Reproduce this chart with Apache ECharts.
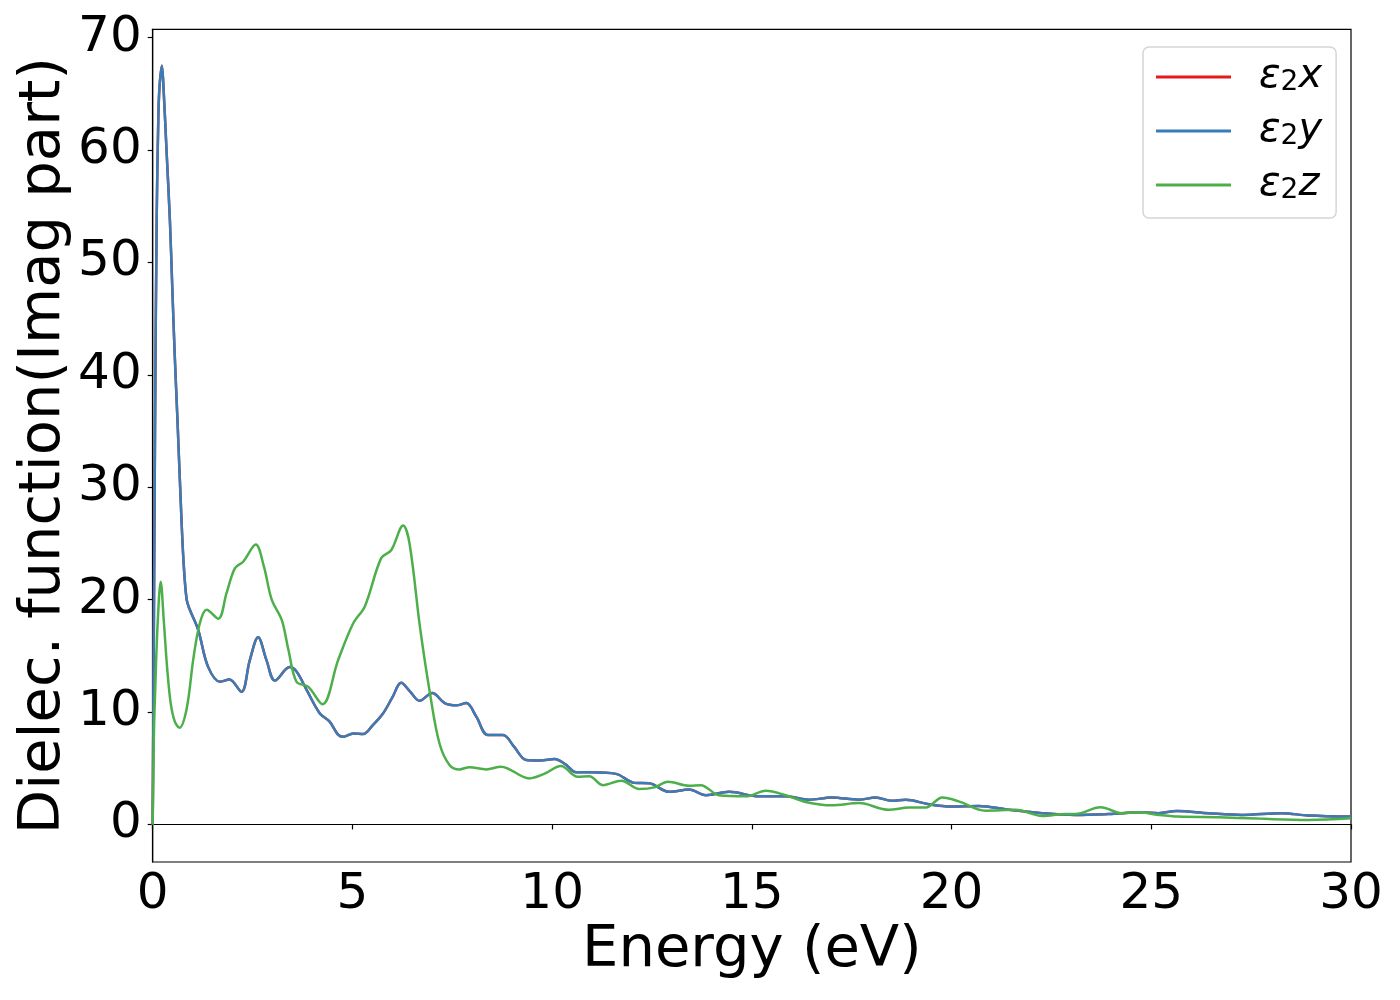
<!DOCTYPE html>
<html>
<head>
<meta charset="utf-8">
<script src="https://cdn.jsdelivr.net/npm/echarts@6/dist/echarts.min.js"></script>
<style>
  html, body { margin: 0; padding: 0; background: #fff; }
  #main { width: 1400px; height: 1000px; }
</style>
</head>
<body>
<div id="main"></div>
<script>
// values (energy in eV, eps2 dimensionless)
var energyXY = [0, 0.03, 0.06, 0.1, 0.14, 0.17, 0.23, 0.27, 0.35, 0.43, 0.49, 0.55, 0.62, 0.7, 0.77, 0.85,
  0.93, 1.14, 1.39, 1.69, 1.92, 2.22, 2.43, 2.64, 2.85, 3.06, 3.43, 3.6, 3.85, 4.18, 4.43, 4.64, 4.77,
  5.02, 5.27, 5.5, 5.77, 6.0, 6.22, 6.45, 6.68, 7.0, 7.31, 7.6, 7.85, 8.1, 8.39, 8.77, 9.05, 9.35, 9.7,
  10.06, 10.35, 10.6, 11.0, 11.6, 12.06, 12.43, 12.93, 13.43, 13.85, 14.43, 15.18, 15.85, 16.43, 17.0,
  17.68, 18.1, 18.5, 18.85, 19.43, 20.0, 20.68, 21.43, 22.27, 23.1, 23.93, 24.77, 25.18, 25.64, 26.43,
  27.27, 28.27, 28.93, 30];
var epsX = [0, 18, 36, 54, 62.7, 65.6, 67.5, 65.6, 59.7, 53.8, 47.8, 41.9, 36, 28.9, 23.5, 20,
  19.1, 17.3, 14.0, 12.7, 12.9, 11.8, 14.6, 16.65, 14.6, 12.8, 14.0, 13.6, 12.0, 9.9, 9.15, 8.0, 7.8,
  8.1, 8.05, 8.8, 9.9, 11.3, 12.6, 11.8, 11.0, 11.7, 10.8, 10.6, 10.8, 9.6, 7.96, 7.96, 6.9, 5.74, 5.7,
  5.83, 5.3, 4.64, 4.64, 4.5, 3.7, 3.66, 2.9, 3.1, 2.6, 2.9, 2.5, 2.5, 2.2, 2.4,
  2.2, 2.4, 2.1, 2.2, 1.8, 1.6, 1.65, 1.3, 1.0, 0.85, 0.93, 1.08, 1.0, 1.2, 1.0,
  0.85, 1.0, 0.8, 0.7];
var epsY = epsX.slice();

var energyZ = [0, 0.03, 0.06, 0.12, 0.2, 0.28, 0.36, 0.45, 0.55, 0.67, 0.85, 1.02, 1.18, 1.35, 1.64,
  1.85, 2.06, 2.27, 2.58, 2.78, 2.98, 3.23, 3.4, 3.6, 3.89, 4.25, 4.64, 5.02, 5.31, 5.72, 5.97, 6.27,
  6.43, 6.69, 6.94, 7.18, 7.43, 7.68, 7.93, 8.35, 8.72, 9.43, 9.8, 10.22, 10.64, 10.93, 11.27, 11.73,
  12.18, 12.56, 12.9, 13.43, 13.72, 14.18, 14.85, 15.35, 15.85, 16.35, 17.0, 17.68, 18.43, 18.93, 19.35,
  19.77, 20.18, 20.85, 21.6, 22.27, 22.85, 23.1, 23.73, 24.27, 24.68, 25.18, 25.68, 26.68, 27.68, 28.93, 30];
var epsZ = [0, 8, 11.7, 17.6, 21.6, 18.0, 14.0, 10.8, 9.2, 8.6, 10.3, 14.8, 17.9, 19.1, 18.3,
  20.6, 22.8, 23.4, 24.9, 23.0, 20.0, 18.2, 15.5, 12.7, 12.26, 10.7, 14.6, 17.9, 19.4, 23.7, 24.4, 26.6,
  25.0, 17.6, 11.7, 7.2, 5.3, 4.9, 5.1, 4.9, 5.14, 4.1, 4.5, 5.2, 4.25, 4.3, 3.5, 3.9,
  3.16, 3.3, 3.8, 3.45, 3.5, 2.6, 2.5, 3.0, 2.6, 2.0, 1.7, 1.9, 1.3, 1.5, 1.5,
  2.4, 2.05, 1.23, 1.3, 0.76, 0.93, 0.93, 1.53, 1.0, 1.08, 0.85, 0.7, 0.64, 0.52, 0.4, 0.55];

var yTicks = [0, 10, 20, 30, 40, 50, 60, 70];
var seriesNames = ['ε2x', 'ε2y', 'ε2z'];
var seriesColors = ['#e41a1c', '#377eb8', '#4daf4a'];

function pairs(xs, ys) {
  return xs.map(function (x, i) { return [x, ys[i]]; });
}

var chart = echarts.init(document.getElementById('main'));
var font = 'DejaVu Sans';

function lineSeries(idx, data) {
  return {
    name: seriesNames[idx],
    type: 'line',
    data: data,
    showSymbol: false,
    smooth: 0.35,
    lineStyle: { color: seriesColors[idx], width: 2.5 },
    itemStyle: { color: seriesColors[idx] },
    z: 2 + idx
  };
}

var option = {
  animation: false,
  backgroundColor: '#fff',
  grid: {
    left: 152.7, right: 49, top: 29.3, bottom: 138,
    show: true, borderColor: '#000', borderWidth: 1.2
  },
  legend: {
    orient: 'vertical',
    left: 1143, top: 47,
    icon: 'rect',
    itemWidth: 75, itemHeight: 3,
    itemGap: 14,
    padding: [10, 14, 13, 13],
    backgroundColor: '#fff',
    borderColor: '#d5d5d5', borderWidth: 1.5, borderRadius: 6,
    data: seriesNames,
    formatter: function (name) {
      return '{i|ε}{s|2}{i|' + name.slice(-1) + '}';
    },
    textStyle: {
      padding: [0, 0, 0, 23],
      rich: {
        i: { fontFamily: font, fontStyle: 'italic', fontSize: 40, lineHeight: 40, color: '#000' },
        s: { fontFamily: font, fontSize: 28, lineHeight: 28, padding: [12, 0, 0, 0], color: '#000' }
      }
    }
  },
  xAxis: {
    type: 'value',
    min: 0, max: 30, interval: 5,
    name: 'Energy (eV)',
    nameLocation: 'middle',
    nameGap: 60,
    nameMoveOverlap: false,
    nameTextStyle: { fontFamily: font, fontSize: 57.6, color: '#000' },
    axisLine: { show: true, lineStyle: { color: '#000', width: 1.2 } },
    axisTick: { show: true, inside: false, length: 5, lineStyle: { color: '#000', width: 1.2 } },
    axisLabel: { fontFamily: font, fontSize: 50, color: '#000', margin: 8 },
    splitLine: { show: false }
  },
  yAxis: {
    type: 'value',
    min: -3.34, max: 70.75,
    name: 'Dielec. function(Imag part)',
    nameLocation: 'middle',
    nameRotate: 90,
    nameGap: 80,
    nameMoveOverlap: false,
    nameTextStyle: { fontFamily: font, fontSize: 57.6, color: '#000' },
    axisLine: { show: true, lineStyle: { color: '#000', width: 1.2 } },
    axisTick: { show: true, inside: false, length: 5, customValues: yTicks, lineStyle: { color: '#000', width: 1.2 } },
    axisLabel: { fontFamily: font, fontSize: 50, color: '#000', margin: 11, customValues: yTicks },
    splitLine: { show: false }
  },
  series: [
    lineSeries(0, pairs(energyXY, epsX)),
    lineSeries(1, pairs(energyXY, epsY)),
    lineSeries(2, pairs(energyZ, epsZ))
  ]
};

chart.setOption(option);
</script>
</body>
</html>
